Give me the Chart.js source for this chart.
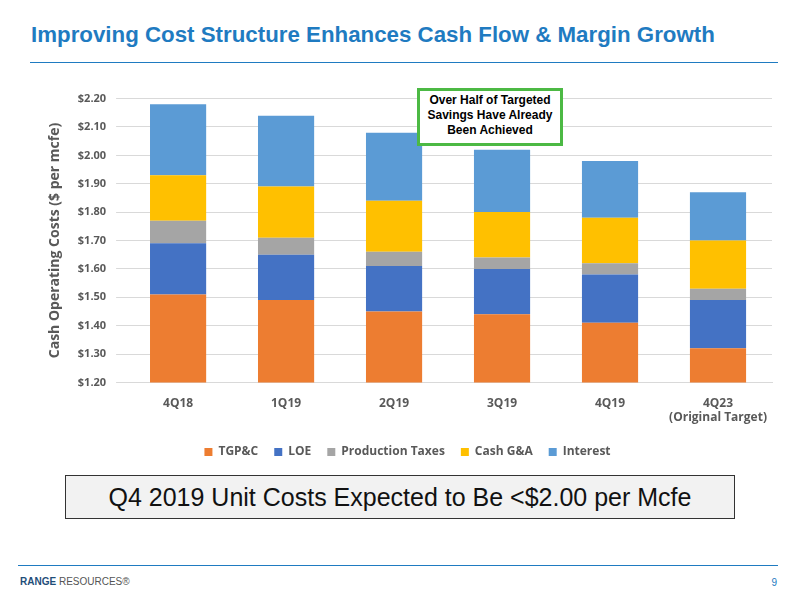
<!DOCTYPE html>
<html lang="en">
<head>
<meta charset="UTF-8">
<title>Cost Structure</title>
<script src="https://cdn.jsdelivr.net/npm/chart.js"></script>
<style>
  body { margin: 0; width: 800px; height: 600px; position: relative; background: #fff; font-family: "Liberation Sans", Arial, sans-serif; }
  .title { position: absolute; left: 31px; top: 22px; font-size: 22.3px; font-weight: bold; color: #1F7BC1; }
  .rule { position: absolute; left: 30px; right: 22px; top: 62px; border-top: 1px solid #1F7BC1; }
  .chart { position: absolute; left: 43px; top: 82px; width: 733px; height: 386px; }
  .callout { position: absolute; left: 417px; top: 88px; width: 140px; height: 50px; border: 3px solid #4CB944; background: #fff;
             font-size: 12px; font-weight: bold; text-align: center; line-height: 15px; padding-top: 2px; box-sizing: content-box; }
  .note { position: absolute; left: 65px; top: 475px; width: 668px; height: 42px; border: 1.5px solid #333; background: #F2F2F2;
          font-size: 25px; text-align: center; line-height: 42px; color: #111; }
  .foot { position: absolute; left: 18px; right: 22px; top: 565px; border-top: 1px solid #1F7BC1; }
  .logo { position: absolute; left: 20px; top: 576px; font-size: 10px; color: #555; }
  .logo b { color: #1F4E79; }
  .page { position: absolute; right: 23px; top: 577px; font-size: 10px; color: #1F7BC1; }
</style>
</head>
<body>
<div class="title">Improving Cost Structure Enhances Cash Flow &amp; Margin Growth</div>
<div class="rule"></div>
<div class="chart"><canvas id="myChart"></canvas></div>
<div class="callout">Over Half of Targeted Savings Have Already Been Achieved</div>
<div class="note">Q4 2019 Unit Costs Expected to Be &lt;$2.00 per Mcfe</div>
<div class="foot"></div>
<div class="logo"><b>RANGE</b> RESOURCES&reg;</div>
<div class="page">9</div>
<script>
const categories = [['4Q18'], ['1Q19'], ['2Q19'], ['3Q19'], ['4Q19'], ['4Q23', '(Original Target)']];
const tgpc     = [1.51, 1.49, 1.45, 1.44, 1.41, 1.32];
const loe      = [0.18, 0.16, 0.16, 0.16, 0.17, 0.17];
const prodTax  = [0.08, 0.06, 0.05, 0.04, 0.04, 0.04];
const cashGA   = [0.16, 0.18, 0.18, 0.16, 0.16, 0.17];
const interest = [0.25, 0.25, 0.24, 0.22, 0.20, 0.17];

const font = { family: '"Open Sans", sans-serif', weight: 'bold', size: 12 };
const mk = (label, data, color) => ({ label, data, backgroundColor: color, barPercentage: 0.52, categoryPercentage: 1 });

new Chart(document.getElementById('myChart'), {
  type: 'bar',
  data: {
    labels: categories,
    datasets: [
      mk('TGP&C', tgpc, '#ED7D31'),
      mk('LOE', loe, '#4472C4'),
      mk('Production Taxes', prodTax, '#A5A5A5'),
      mk('Cash G&A', cashGA, '#FFC000'),
      mk('Interest', interest, '#5B9BD5')
    ]
  },
  options: {
    responsive: true,
    maintainAspectRatio: false,
    animation: false,
    layout: { padding: { right: 4 } },
    scales: {
      x: { stacked: true, grid: { display: false }, border: { color: '#D9D9D9' },
           ticks: { color: '#595959', font: { ...font, lineHeight: 1.15 }, padding: 6 } },
      y: { stacked: true, min: 1.2, max: 2.2, border: { display: false },
           grid: { color: '#D9D9D9' },
           ticks: { stepSize: 0.1, color: '#595959', font: { ...font, size: 11 }, padding: 10, callback: v => '$' + v.toFixed(2) },
           title: { display: true, text: 'Cash Operating Costs ($ per mcfe)', color: '#595959', font: { ...font, size: 14 } } }
    },
    plugins: {
      legend: { position: 'bottom', labels: { boxWidth: 8, boxHeight: 8, color: '#595959', font, padding: 16 } },
      tooltip: { enabled: false }
    }
  }
});
</script>
</body>
</html>
